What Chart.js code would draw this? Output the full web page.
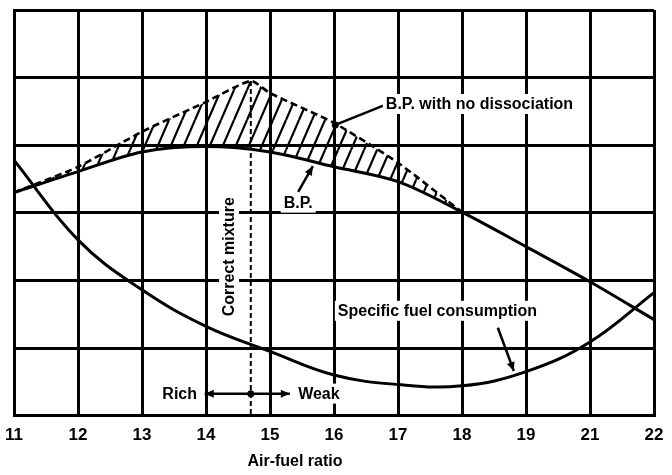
<!DOCTYPE html>
<html lang="en">
<head>
<meta charset="UTF-8">
<title>B.P. and specific fuel consumption against air-fuel ratio</title>
<style>
  body { margin: 0; background: #fff; }
</style>
</head>
<body>
<canvas id="afrChart" width="672" height="475"></canvas>
<script src="https://cdn.jsdelivr.net/npm/chart.js"></script>
<script>
// one unit per grid column; the printed scale jumps from 19 to 21
const afrPos = [11, 12, 13, 14, 15, 16, 17, 18, 19, 20, 21];
const tickLabels = ["11", "12", "13", "14", "15", "16", "17", "18", "19", "21", "22"];

// B.P. (arbitrary grid units)
const bpValues = [3.30, 3.61, 3.90, 3.98, 3.90, 3.68, 3.46, 3.01, 2.50, 1.98, 1.42];

// B.P. with no dissociation, joins the B.P. curve again at 18
const noDissPos = [11, 12, 13, 14, 14.7, 15, 16, 17, 18];
const noDissValues = [3.30, 3.68, 4.20, 4.64, 4.95, 4.77, 4.33, 3.74, 3.01];

// specific fuel consumption
const sfcValues = [3.78, 2.60, 1.86, 1.32, 0.95, 0.60, 0.46, 0.44, 0.65, 1.09, 1.82];

// correct mixture line
const correctPos = [14.7, 14.7];
const correctValues = [4.95, 0];

const FONT = "'Liberation Sans', Arial, sans-serif";

function pts(xs, ys) {
    return xs.map((x, i) => ({ x: x, y: ys[i] }));
}

const ctx = document.getElementById("afrChart").getContext("2d");

function makeHatch() {
    const w = 13, h = 30;
    const c = document.createElement("canvas");
    c.width = w; c.height = h;
    const g = c.getContext("2d");
    g.strokeStyle = "#000";
    g.lineWidth = 2.2;
    g.beginPath();
    for (const off of [-w, 0, w]) {
        g.moveTo(off, h);
        g.lineTo(off + w, 0);
    }
    g.stroke();
    return ctx.createPattern(c, "repeat");
}

// labels, leaders and the rich/weak arrow
const notesPlugin = {
    id: "notes",
    afterDatasetsDraw(chart) {
        const c = chart.ctx;
        const sx = chart.scales.x, sy = chart.scales.y;
        const px = v => sx.getPixelForValue(v);
        const py = v => sy.getPixelForValue(v);

        function label(text, xv, yv, align, rot) {
            c.save();
            c.font = "bold 16px " + FONT;
            c.textAlign = align;
            c.textBaseline = "middle";
            c.translate(px(xv), py(yv));
            if (rot) c.rotate(-Math.PI / 2);
            const w = c.measureText(text).width;
            const left = align === "left" ? 0 : align === "right" ? -w : -w / 2;
            c.fillStyle = "#fff";
            c.fillRect(left - 3, -10, w + 6, 20);
            c.fillStyle = "#000";
            c.fillText(text, 0, 1);
            c.restore();
        }

        function head(x1, y1, x2, y2) {
            const a = Math.atan2(y2 - y1, x2 - x1);
            c.beginPath();
            c.moveTo(x2, y2);
            c.lineTo(x2 - 9 * Math.cos(a) + 4 * Math.sin(a), y2 - 9 * Math.sin(a) - 4 * Math.cos(a));
            c.lineTo(x2 - 9 * Math.cos(a) - 4 * Math.sin(a), y2 - 9 * Math.sin(a) + 4 * Math.cos(a));
            c.closePath();
            c.fill();
        }

        function leader(x1, y1, x2, y2, withHead) {
            const a = [px(x1), py(y1)], b = [px(x2), py(y2)];
            c.beginPath();
            c.moveTo(a[0], a[1]);
            c.lineTo(b[0], b[1]);
            c.stroke();
            if (withHead) head(a[0], a[1], b[0], b[1]);
        }

        c.save();
        c.strokeStyle = "#000";
        c.fillStyle = "#000";
        c.lineWidth = 2.5;

        leader(16.78, 4.59, 16.02, 4.30, false);
        c.beginPath();
        c.arc(px(16.02), py(4.30), 3.5, 0, Math.PI * 2);
        c.fill();

        leader(15.44, 3.31, 15.67, 3.69, true);
        leader(18.56, 1.30, 18.81, 0.66, true);

        // rich <- . -> weak
        const ay = py(0.325);
        c.beginPath();
        c.moveTo(px(13.98), ay);
        c.lineTo(px(15.31), ay);
        c.stroke();
        head(px(14.7), ay, px(13.98), ay);
        head(px(14.7), ay, px(15.31), ay);
        c.beginPath();
        c.arc(px(14.7), ay, 3.5, 0, Math.PI * 2);
        c.fill();
        c.restore();

        label("B.P. with no dissociation", 16.81, 4.61, "left");
        label("B.P.", 15.44, 3.15, "center");
        label("Correct mixture", 14.36, 2.35, "center", true);
        label("Rich", 13.86, 0.325, "right");
        label("Weak", 15.44, 0.325, "left");
        label("Specific fuel consumption", 16.06, 1.55, "left");

        c.save();
        c.font = "bold 16px " + FONT;
        c.fillStyle = "#000";
        c.textAlign = "center";
        c.textBaseline = "middle";
        c.fillText("Air-fuel ratio", px(15.39), chart.chartArea.bottom + 46);
        c.restore();
    }
};

new Chart(ctx, {
    type: "line",
    data: {
        datasets: [
            {
                label: "B.P.",
                data: pts(afrPos, bpValues),
                borderColor: "#000",
                borderWidth: 3,
                cubicInterpolationMode: "monotone",
                pointRadius: 0,
                fill: false
            },
            {
                label: "B.P. with no dissociation",
                data: pts(noDissPos, noDissValues),
                borderColor: "#000",
                borderWidth: 2.6,
                borderDash: [7, 4],
                tension: 0.2,
                pointRadius: 0,
                backgroundColor: makeHatch(),
                fill: 0
            },
            {
                label: "Specific fuel consumption",
                data: pts(afrPos, sfcValues),
                borderColor: "#000",
                borderWidth: 3,
                tension: 0.4,
                pointRadius: 0,
                fill: false
            },
            {
                label: "Correct mixture",
                data: pts(correctPos, correctValues),
                borderColor: "#000",
                borderWidth: 2,
                borderDash: [5, 3],
                pointRadius: 0,
                fill: false
            }
        ]
    },
    options: {
        responsive: false,
        animation: false,
        layout: { padding: { left: 14, right: 18, top: 10, bottom: 19 } },
        plugins: {
            legend: { display: false },
            tooltip: { enabled: false }
        },
        scales: {
            x: {
                type: "linear",
                min: 11,
                max: 21,
                afterFit: s => { s.paddingLeft = 0; s.paddingRight = 0; },
                ticks: {
                    stepSize: 1,
                    padding: 10,
                    color: "#000",
                    font: { family: FONT, size: 17, weight: "bold" },
                    callback: v => tickLabels[afrPos.indexOf(v)] || ""
                },
                grid: { color: "#000", lineWidth: 3, drawTicks: false },
                border: { display: true, color: "#000", width: 3 }
            },
            y: {
                min: 0,
                max: 6,
                ticks: { stepSize: 1, display: false },
                grid: { color: "#000", lineWidth: 3, drawTicks: false },
                border: { display: true, color: "#000", width: 3 }
            }
        }
    },
    plugins: [notesPlugin]
});
</script>
</body>
</html>
